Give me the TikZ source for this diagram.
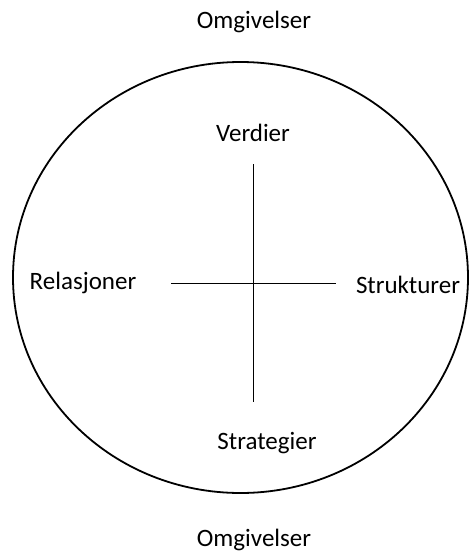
\documentclass[tikz,border=0pt]{standalone}
\usepackage{fontspec}
\setmainfont{Carlito}
\usepackage{tikz}
\usetikzlibrary{positioning}

\begin{document}
\begin{tikzpicture}[x=1pt,y=-1pt,every node/.style={inner sep=0pt,font=\fontsize{25}{29}\selectfont}]
  \useasboundingbox (0,0) rectangle (472,554);

  \node (omgTop) at (254,22) {Omgivelser};
  \node (omgBot) at (254,540) {Omgivelser};

  \draw[line width=1.8pt] (240.5,277.5) ellipse [x radius=227.5pt, y radius=215.5pt];

  \node (verdier) at (253,133) {Verdier};
  \node (relasjoner) at (83,283) {Relasjoner};
  \node (strukturer) at (408,285) {Strukturer};
  \node (strategier) at (267,443) {Strategier};

  \coordinate (vTop) at (253,164);
  \coordinate (vBot) at (253,402);
  \coordinate (hLeft) at (171,283);
  \coordinate (hRight) at (336,283);

  \draw[line width=0.9pt] (vTop) -- (vBot);
  \draw[line width=0.9pt] (hLeft) -- (hRight);
\end{tikzpicture}
\end{document}
